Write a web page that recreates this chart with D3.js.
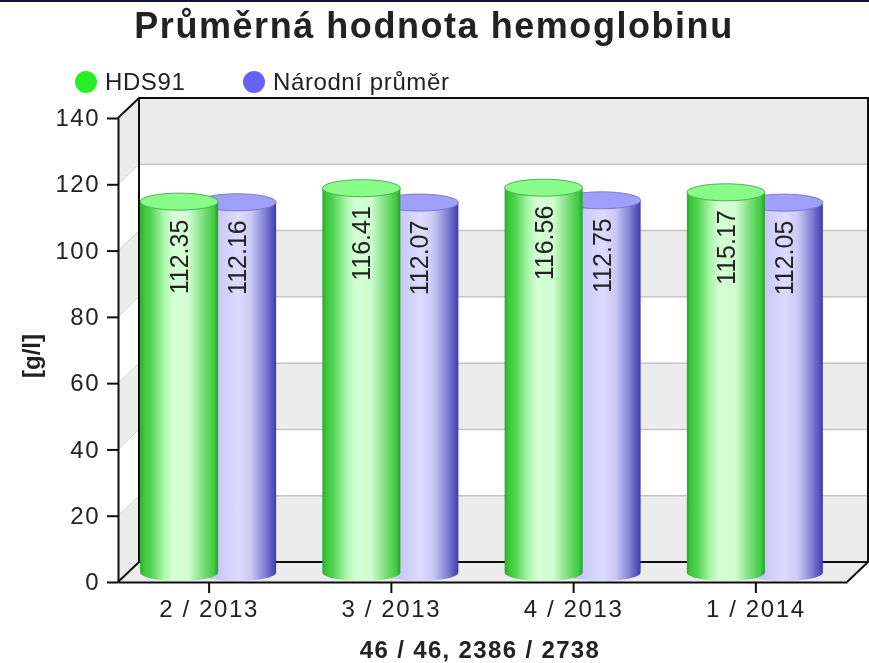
<!DOCTYPE html>
<html><head><meta charset="utf-8">
<script src="https://cdn.jsdelivr.net/npm/d3@7"></script>
<style>html,body{margin:0;padding:0;background:#fff}svg{display:block}</style></head>
<body><svg id="c" width="869" height="663"></svg>
<script>
const categories=["2 / 2013","3 / 2013","4 / 2013","1 / 2014"];
const hds91=[112.35,116.41,116.56,115.17];
const national=[112.16,112.07,112.75,112.05];
const seriesNames=["HDS91","Národní průměr"];
const yTicks=[0,20,40,60,80,100,120,140];
const titleText="Průměrná hodnota hemoglobinu";
const yTitle="[g/l]";
const xTitle="46 / 46, 2386 / 2738";

const W=869,H=663,dx=21,dy=20;
const L=118,R=847,B=582,T=118;
const root=d3.select("#c");
const y=d3.scaleLinear().domain([0,140]).range([B,T]);
const x=d3.scaleBand().domain(categories).range([L,R]);
const defs=root.append("defs");
function grad(id,stops){const g=defs.append("linearGradient").attr("id",id);
 stops.forEach(s=>g.append("stop").attr("offset",s[0]).attr("stop-color",s[1]));}
grad("gG",[[0,"#2aa82a"],[.04,"#38c438"],[.14,"#52d452"],[.3,"#a8f5a8"],[.42,"#d6ffd6"],[.62,"#d0fdd0"],[.8,"#7fe07f"],[.95,"#3ecb3e"],[1,"#2a9a2a"]]);
grad("gB",[[0,"#b8b8f0"],[.3,"#ccccfa"],[.52,"#dcdcff"],[.68,"#c8c8f5"],[.85,"#8484d8"],[.97,"#4c4cb8"],[1,"#3c3ca8"]]);
const blur=defs.append("filter").attr("id","soft").attr("filterUnits","userSpaceOnUse")
 .attr("x",0).attr("y",0).attr("width",W).attr("height",H);
blur.append("feGaussianBlur").attr("stdDeviation",0.5);
const svg=root.append("g").attr("filter","url(#soft)");
const F="'Liberation Sans',Arial,sans-serif";

svg.append("rect").attr("width",W).attr("height",H).attr("fill","#fff");
svg.append("rect").attr("width",W).attr("height",2).attr("fill","#10183c");

// walls and floor
const wall=svg.append("g");
wall.append("polygon").attr("fill","#ececec")
 .attr("points",[[L,B],[L+dx,B-dy],[R+dx,B-dy],[R,B]].join(" "));
// alternating bands on the back wall and left wall
yTicks.slice(0,-1).forEach((t,i)=>{
 const c=i%2===0?"#ececec":"#ffffff",t2=yTicks[i+1];
 wall.append("rect").attr("x",L+dx).attr("width",R-L)
  .attr("y",y(t2)-dy).attr("height",y(t)-y(t2)).attr("fill",c);
 wall.append("polygon").attr("fill",c)
  .attr("points",[[L,y(t)],[L+dx,y(t)-dy],[L+dx,y(t2)-dy],[L,y(t2)]].join(" "));
});
yTicks.forEach(t=>{
 if(t===0||t===140)return;
 wall.append("line").attr("x1",L+dx).attr("x2",R+dx).attr("y1",y(t)-dy).attr("y2",y(t)-dy).attr("stroke","#c4c4c4").attr("stroke-width",1.5);
 wall.append("line").attr("x1",L).attr("x2",L+dx).attr("y1",y(t)).attr("y2",y(t)-dy).attr("stroke","#d4d4d4").attr("stroke-width",1);
});
// frame
const frame=wall.append("g").attr("stroke","#111").attr("stroke-width",2).attr("fill","none");
frame.append("polyline").attr("points",[[L,T],[L+dx,T-dy],[R+dx,T-dy],[R+dx,B-dy],[R,B]].join(" "));
frame.append("polyline").attr("points",[[L+dx,T-dy],[L+dx,B-dy],[R+dx,B-dy]].join(" "));
frame.append("line").attr("x1",L).attr("y1",B).attr("x2",L+dx).attr("y2",B-dy);

// axes
const ay=svg.append("g").attr("transform",`translate(${L},0)`)
 .call(d3.axisLeft(y).tickValues(yTicks).tickSize(11).tickPadding(7).tickSizeOuter(0));
const ax=svg.append("g").attr("transform",`translate(0,${B})`)
 .call(d3.axisBottom(x).tickSize(11).tickPadding(5).tickSizeOuter(0));
[ay,ax].forEach(a=>{a.selectAll("path,line").attr("stroke","#111").attr("stroke-width",2);
 a.selectAll("text").attr("font-family",F).attr("font-size",24).attr("fill","#222");});
ay.selectAll("text").attr("letter-spacing",1.5);
ax.selectAll("text").attr("letter-spacing",1.6).attr("dy","0.8em");

// cylinders
const rySize=8.5,depth=8;
function cyl(cx,w,val,gid,topFill,edge,label){
 const rx=w/2,x0=cx-rx,x1=cx+rx,yt=y(val)-depth,yb=B-9.5;
 const g=svg.append("g");
 g.append("path").attr("d",`M${x0},${yt}L${x0},${yb}A${rx},${rySize} 0 0 0 ${x1},${yb}L${x1},${yt}Z`)
  .attr("fill",`url(#${gid})`);
 g.append("ellipse").attr("cx",cx).attr("cy",yt).attr("rx",rx).attr("ry",rySize).attr("fill",topFill).attr("stroke",edge).attr("stroke-width",1);
 g.append("text").attr("transform",`translate(${cx+9},${yt+18}) rotate(-90)`)
  .attr("text-anchor","end").attr("font-family",F).attr("font-size",25).attr("fill","#222").text(label);
}
categories.forEach((c,i)=>{
 const m=x(c)+x.bandwidth()/2;
 cyl(m+28,78,national[i],"gB","#a0a0fc","#7a7ad0",national[i].toFixed(2));
 cyl(m-30,78,hds91[i],"gG","#88fc88","#50b050",hds91[i].toFixed(2));
});

// title
svg.append("text").attr("x",434).attr("y",38).attr("text-anchor","middle").attr("font-family",F)
 .attr("font-weight","bold").attr("font-size",36).attr("letter-spacing",1.55).attr("fill","#222").text(titleText);
// legend
const legendX=[86,254],legendCol=["#28f028","#6464f4"];
seriesNames.forEach((s,i)=>{
 svg.append("circle").attr("cx",legendX[i]).attr("cy",82).attr("r",11).attr("fill",legendCol[i]);
 svg.append("text").attr("x",legendX[i]+19).attr("y",90).attr("font-family",F).attr("font-size",24).attr("letter-spacing",0.6).attr("fill","#222").text(s);
});
// axis titles
svg.append("text").attr("transform","translate(40,356) rotate(-90)").attr("text-anchor","middle")
 .attr("font-family",F).attr("font-weight","bold").attr("font-size",24).attr("fill","#222").text(yTitle);
svg.append("text").attr("x",480).attr("y",658).attr("text-anchor","middle")
 .attr("font-family",F).attr("font-weight","bold").attr("font-size",24).attr("letter-spacing",1.35).attr("fill","#222").text(xTitle);
</script></body></html>
